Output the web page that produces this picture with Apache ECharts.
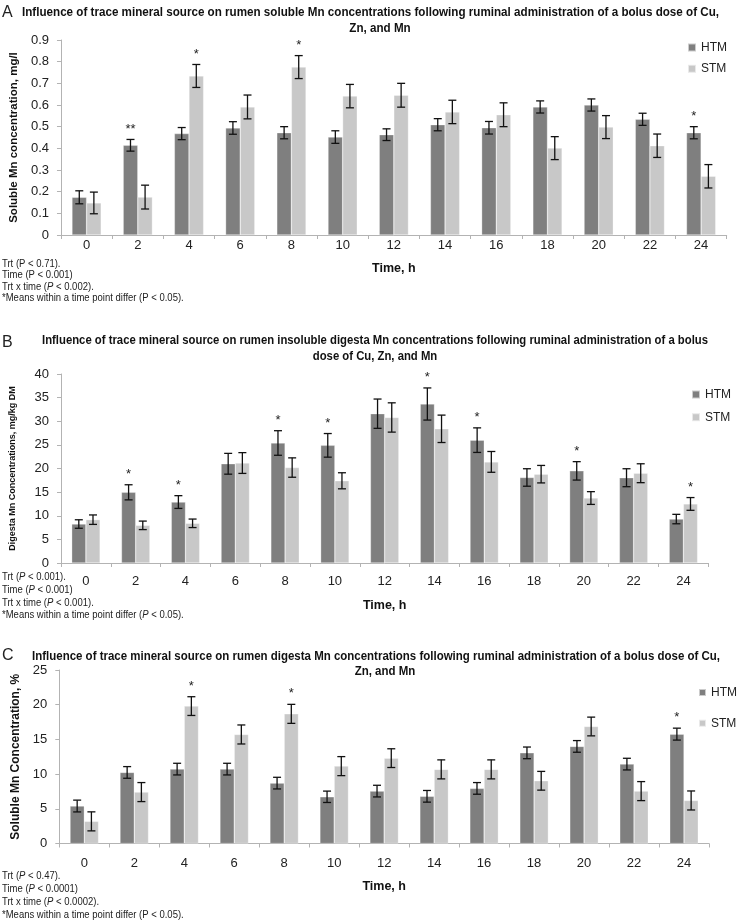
<!DOCTYPE html>
<html>
<head>
<meta charset="utf-8">
<script src="https://cdn.jsdelivr.net/npm/echarts@6/dist/echarts.min.js"></script>
<style>html,body{margin:0;padding:0;background:#fff;}#c{width:738px;height:920px;}</style>
</head>
<body>
<div id="c"></div>
<script>
const categories = ['0','2','4','6','8','10','12','14','16','18','20','22','24'];

// Panel A: soluble Mn, mg/l
const htmA    = [0.174,0.414,0.468,0.494,0.472,0.452,0.463,0.509,0.495,0.591,0.600,0.534,0.472];
const htmAErr = [0.030,0.027,0.028,0.029,0.028,0.029,0.027,0.028,0.029,0.028,0.028,0.028,0.028];
const stmA    = [0.148,0.175,0.734,0.591,0.775,0.641,0.645,0.568,0.555,0.401,0.498,0.412,0.271];
const stmAErr = [0.050,0.055,0.053,0.055,0.053,0.054,0.055,0.054,0.055,0.053,0.053,0.054,0.054];
const sigAHtm = ['','**','','','','','','','','','','','*'];
const sigAStm = ['','','*','','*','','','','','','','',''];

// Panel B: insoluble digesta Mn, mg/kg DM
const htmB    = [8.25,14.96,12.9,21.0,25.4,24.9,31.6,33.65,26.0,18.1,19.5,18.05,9.3];
const htmBErr = [0.9,1.6,1.35,2.2,2.6,2.5,3.1,3.4,2.6,1.85,1.95,1.9,1.0];
const stmB    = [9.17,7.97,8.4,21.16,20.2,17.4,30.8,28.4,21.4,18.8,13.75,19.0,12.5];
const stmBErr = [1.0,0.9,0.9,2.2,2.05,1.7,3.1,2.9,2.2,1.85,1.35,2.0,1.35];
const sigBHtm = ['','*','*','','*','*','','*','*','','*','',''];
const sigBStm = ['','','','','','','','','','','','','*'];

// Panel C: soluble Mn concentration, %
const htmC    = [5.4,10.24,10.72,10.72,8.7,6.73,7.55,6.8,7.94,13.06,13.99,11.44,15.76];
const htmCErr = [0.85,0.84,0.84,0.84,0.84,0.82,0.84,0.84,0.84,0.84,0.84,0.84,0.86];
const stmC    = [3.19,7.41,19.8,15.71,18.68,11.15,12.3,10.68,10.68,9.04,16.86,7.55,6.2];
const stmCErr = [1.37,1.37,1.35,1.37,1.37,1.37,1.35,1.37,1.37,1.35,1.35,1.37,1.37];
const sigCHtm = ['','','','','','','','','','','','','*'];
const sigCStm = ['','','*','','*','','','','','','','',''];

const yTicksA = {min:0, max:0.9, interval:0.1};
const yTicksB = {min:0, max:40, interval:5};
const yTicksC = {min:0, max:25, interval:5};

const SANS = "'Liberation Sans',Arial,sans-serif";
const HTM_COLOR = '#7f7f7f';
const STM_COLOR = '#c8c8c8';
const AXIS_COLOR = '#b3b3b3';
const BAR_W = 0.285;

const measureCtx = document.createElement('canvas').getContext('2d');
function textWidth(text, font){ measureCtx.font = font; return measureCtx.measureText(text).width; }

const chart = echarts.init(document.getElementById('c'), null, {renderer:'canvas'});

function xAxisFor(gi, margin, nameGap){
  return {
    type:'category', gridIndex:gi, data:categories,
    axisLine:{lineStyle:{color:AXIS_COLOR,width:1}},
    axisTick:{show:true,length:4,lineStyle:{color:AXIS_COLOR}},
    axisLabel:{color:'#222',fontSize:13,fontFamily:SANS,margin:margin},
    name:'Time, h', nameLocation:'middle', nameGap:nameGap,
    nameTextStyle:{color:'#111',fontSize:12.5,fontWeight:'bold',fontFamily:SANS}
  };
}
function yAxisFor(gi, t, name, nameSize, nameGap, fmt){
  return {
    type:'value', gridIndex:gi, min:t.min, max:t.max, interval:t.interval,
    splitLine:{show:false},
    axisLine:{show:true,lineStyle:{color:AXIS_COLOR,width:1}},
    axisTick:{show:true,length:4,lineStyle:{color:AXIS_COLOR}},
    axisLabel:{color:'#222',fontSize:13,fontFamily:SANS,margin:12,formatter:fmt},
    name:name, nameLocation:'middle', nameRotate:90, nameGap:nameGap,
    nameTextStyle:{color:'#111',fontSize:nameSize,fontWeight:'bold',fontFamily:SANS}
  };
}

function barSeries(name, gi, vals, color){
  return {
    type:'bar', name:name, xAxisIndex:gi, yAxisIndex:gi, data:vals,
    barWidth:(BAR_W*100)+'%', barGap:'0%',
    itemStyle:{color:color, borderColor:'rgba(255,255,255,0.6)', borderWidth:0.5},
    emphasis:{disabled:true}, animation:false, z:2
  };
}
function errSeries(name, gi, vals, errs, sig, side){
  return {
    type:'custom', name:name, xAxisIndex:gi, yAxisIndex:gi,
    data: vals.map((v,i)=>[i, v, errs[i]]),
    animation:false, z:5, silent:true,
    renderItem:function(params, api){
      const i = api.value(0), v = api.value(1), e = api.value(2);
      const w = api.size([1,0])[0];
      const c = api.coord([i, v]);
      const x = c[0] + side*w*BAR_W/2;
      const hi = api.coord([i, v+e])[1];
      const lo = api.coord([i, v-e])[1];
      const cap = 4;
      const ls = {stroke:'#111', lineWidth:1.3};
      const children = [
        {type:'line', shape:{x1:x,y1:hi,x2:x,y2:lo}, style:ls},
        {type:'line', shape:{x1:x-cap,y1:hi,x2:x+cap,y2:hi}, style:ls},
        {type:'line', shape:{x1:x-cap,y1:lo,x2:x+cap,y2:lo}, style:ls}
      ];
      const s = sig[params.dataIndex];
      if (s) {
        children.push({type:'text', style:{text:s, x:x, y:hi-4, align:'center', verticalAlign:'bottom',
          fill:'#222', font:'13px '+SANS}});
      }
      return {type:'group', children:children};
    }
  };
}

const FOOT_SIZE = 10;
const FOOT_SCALE = 0.95;
function footnote(x, y, parts){
  let txt = parts.map(p => (p[1]?'{i|':'{n|') + p[0] + '}').join('');
  return {type:'text', x:x, y:y, scaleX:FOOT_SCALE, style:{text:txt, fill:'#222',
    rich:{n:{fontSize:FOOT_SIZE,fontFamily:SANS,fill:'#222'}, i:{fontSize:FOOT_SIZE,fontFamily:SANS,fontStyle:'italic',fill:'#222'}}}};
}
const TITLE_FONT = 'bold 13px ' + SANS;
function titleLines(cx, cy, line1, line2, cx2, cy2, targetWidth){
  const s = targetWidth / textWidth(line1, TITLE_FONT);
  return [
    {type:'text', x:cx, y:cy, scaleX:s, style:{text:line1, align:'center', verticalAlign:'middle', fill:'#111', font:TITLE_FONT}},
    {type:'text', x:cx2, y:cy2, scaleX:s, style:{text:line2, align:'center', verticalAlign:'middle', fill:'#111', font:TITLE_FONT}}
  ];
}
function letter(x, y, t){
  return {type:'text', x:x, y:y, style:{text:t, verticalAlign:'middle', fill:'#222', font:'16px '+SANS}};
}
function legendFor(left, top, size, gap){
  return {data:['HTM','STM'], orient:'vertical', left:left, top:top, padding:0, itemWidth:size, itemHeight:size,
    itemGap:gap, icon:'rect', textStyle:{fontSize:12,fontFamily:SANS,color:'#222'}, selectedMode:false};
}

const option = {
  backgroundColor:'#fff',
  animation:false,
  grid:[
    {left:49.3, right:11.3, top:40, bottom:685},
    {left:52.7, right:29.7, top:374, bottom:357},
    {left:59.3, right:29, top:670, bottom:76.5}
  ],
  xAxis:[ xAxisFor(0,4,27), xAxisFor(1,12,36), xAxisFor(2,13,37) ],
  yAxis:[
    yAxisFor(0, yTicksA, 'Soluble Mn concentration, mg/l', 11.5, 40, v => v===0?'0':v.toFixed(1)),
    yAxisFor(1, yTicksB, 'Digesta Mn Concentrations, mg/kg DM', 9, 44, v => String(v)),
    yAxisFor(2, yTicksC, 'Soluble Mn Concentration, %', 12, 34, v => String(v))
  ],
  legend:[ legendFor(687,41.5,8,9.3), legendFor(691,388.5,8,10.7), legendFor(698,686.5,7,18.7) ],
  series:[
    barSeries('HTM',0,htmA,HTM_COLOR), barSeries('STM',0,stmA,STM_COLOR),
    errSeries('HTM',0,htmA,htmAErr,sigAHtm,-1), errSeries('STM',0,stmA,stmAErr,sigAStm,1),
    barSeries('HTM',1,htmB,HTM_COLOR), barSeries('STM',1,stmB,STM_COLOR),
    errSeries('HTM',1,htmB,htmBErr,sigBHtm,-1), errSeries('STM',1,stmB,stmBErr,sigBStm,1),
    barSeries('HTM',2,htmC,HTM_COLOR), barSeries('STM',2,stmC,STM_COLOR),
    errSeries('HTM',2,htmC,htmCErr,sigCHtm,-1), errSeries('STM',2,stmC,stmCErr,sigCStm,1)
  ],
  graphic:[
    letter(2,13,'A'),
    ...titleLines(370.5,12,'Influence of trace mineral source on rumen soluble Mn concentrations following ruminal administration of a bolus dose of Cu,',
      'Zn, and Mn',380,28,697),
    footnote(2,259,[['Trt (P < 0.71).',false]]),
    footnote(2,270.5,[['Time (P < 0.001)',false]]),
    footnote(2,282,[['Trt x time (',false],['P',true],[' < 0.002).',false]]),
    footnote(2,293.5,[['*Means within a time point differ (P < 0.05).',false]]),

    letter(2,343,'B'),
    ...titleLines(375,340,'Influence of trace mineral source on rumen insoluble digesta Mn concentrations following ruminal administration of a bolus',
      'dose of Cu, Zn, and Mn',375,356,666),
    footnote(2,572,[['Trt (',false],['P',true],[' < 0.001).',false]]),
    footnote(2,585,[['Time (',false],['P',true],[' < 0.001)',false]]),
    footnote(2,598,[['Trt x time (',false],['P',true],[' < 0.001).',false]]),
    footnote(2,610,[['*Means within a time point differ (',false],['P',true],[' < 0.05).',false]]),

    letter(2,656,'C'),
    ...titleLines(376,656,'Influence of trace mineral source on rumen digesta Mn concentrations following ruminal administration of a bolus dose of Cu,',
      'Zn, and Mn',385,671,688),
    footnote(2,871,[['Trt (',false],['P',true],[' < 0.47).',false]]),
    footnote(2,884,[['Time (',false],['P',true],[' < 0.0001)',false]]),
    footnote(2,897,[['Trt x time (',false],['P',true],[' < 0.0002).',false]]),
    footnote(2,910,[['*Means within a time point differ (P < 0.05).',false]])
  ]
};
chart.setOption(option);
</script>
</body>
</html>
